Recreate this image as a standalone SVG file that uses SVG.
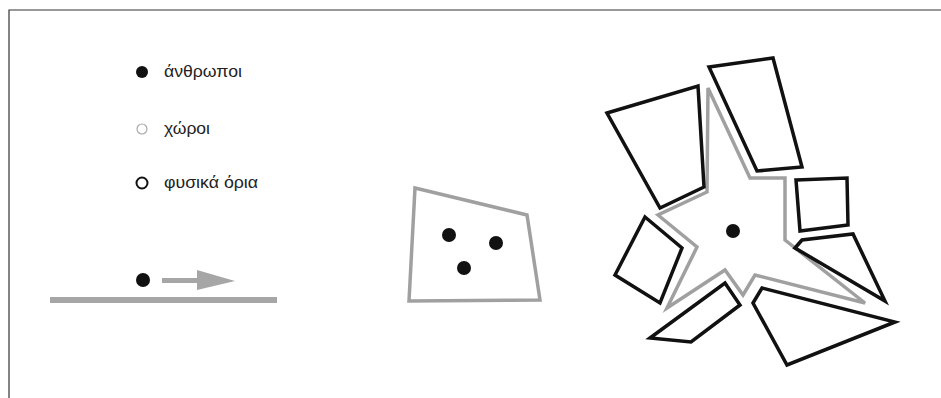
<svg xmlns="http://www.w3.org/2000/svg" width="941" height="398" viewBox="0 0 941 398">
<style>
.frame{fill:none;stroke:#333;stroke-width:1.2}
.lbl{font-family:"Liberation Sans",Arial,sans-serif;font-size:16px;fill:#222}
.dot{fill:#111}
.space{fill:none;stroke:#a0a0a0;stroke-width:3.5;stroke-linejoin:miter}
.wall{fill:none;stroke:#111;stroke-width:3.5;stroke-linejoin:miter}
.grey{fill:#a6a6a6}
</style>
<rect width="941" height="398" fill="#fff"/>
<path class="frame" d="M9,398 V10 H941"/>
<g id="legend">
  <g id="legend-people"><circle class="dot" cx="142" cy="72" r="6"/><text class="lbl" x="164" y="77" textLength="78" lengthAdjust="spacingAndGlyphs">άνθρωποι</text></g>
  <g id="legend-spaces"><circle cx="142" cy="129" r="5" fill="none" stroke="#aaa" stroke-width="1.2"/><text class="lbl" x="164" y="134" textLength="46" lengthAdjust="spacingAndGlyphs">χώροι</text></g>
  <g id="legend-bounds"><circle cx="142" cy="183" r="5.5" fill="none" stroke="#111" stroke-width="2"/><text class="lbl" x="164" y="188" textLength="94" lengthAdjust="spacingAndGlyphs">φυσικά όρια</text></g>
</g>
<g id="movement">
  <rect class="grey" x="50" y="297" width="227" height="6"/>
  <circle class="dot" cx="143" cy="280" r="7"/>
  <rect class="grey" x="162" y="278" width="38" height="5"/>
  <polygon class="grey" points="197,270 235,281 197,290"/>
</g>
<g id="room">
  <polygon class="space" points="415,188 527,215 540,300 409,301"/>
  <circle class="dot" cx="449" cy="235" r="7"/>
  <circle class="dot" cx="496" cy="243" r="7"/>
  <circle class="dot" cx="464" cy="268" r="7"/>
</g>
<g id="star">
  <polygon class="space" points="708,88 750,178 785,178 785,240 865,303 755,275 743,295 725,270 667,308 697,247 658,215 707,192"/>
  <circle class="dot" cx="733" cy="231" r="7"/>
</g>
<g id="walls">
  <polygon class="wall" points="607,113 698,86 704,187 660,208"/>
  <polygon class="wall" points="709,67 773,58 802,167 757,171"/>
  <polygon class="wall" points="796,180 847,178 848,225 800,231"/>
  <polygon class="wall" points="795,248 802,240 853,234 885,301"/>
  <polygon class="wall" points="645,217 682,248 660,303 615,275"/>
  <polygon class="wall" points="650,338 725,283 740,305 691,342"/>
  <polygon class="wall" points="753,303 762,288 895,322 787,365"/>
</g>
</svg>
